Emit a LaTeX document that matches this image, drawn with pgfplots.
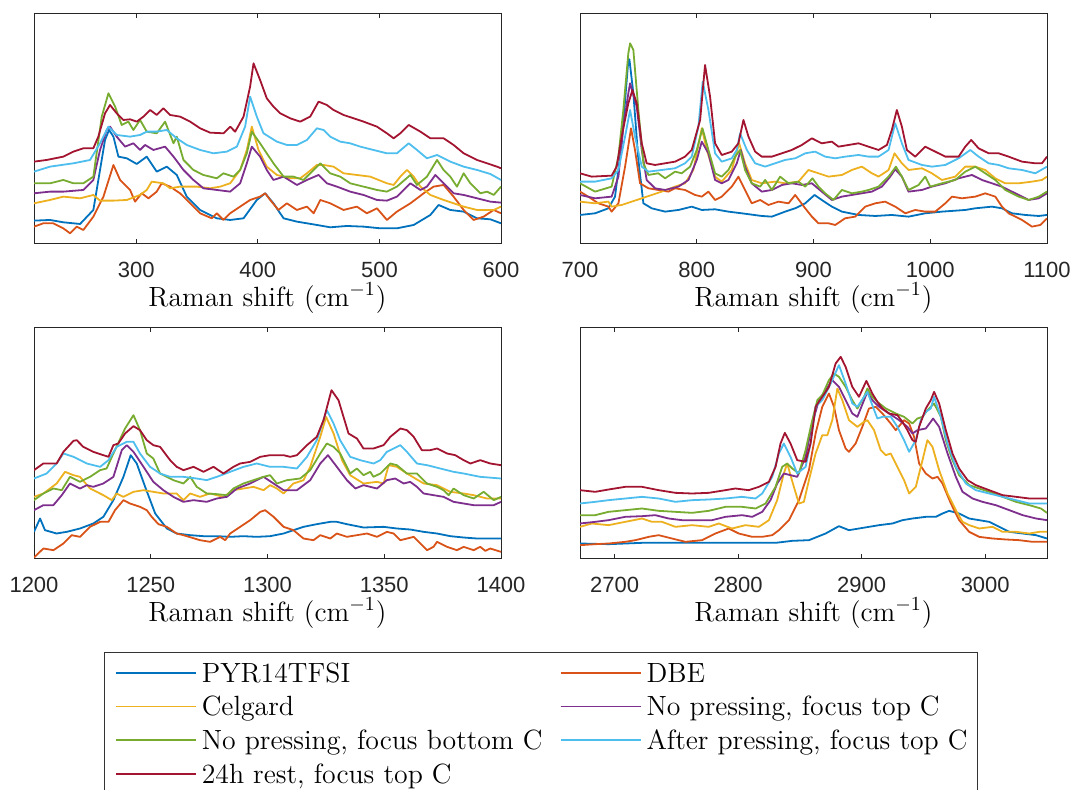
\documentclass[border=0pt]{standalone}
\usepackage{fontspec}
\usepackage{pgfplots}
\pgfplotsset{compat=1.18}
\newfontfamily\ticksf{Liberation Sans}

% MATLAB default line colours
\definecolor{cA}{RGB}{0,114,189}
\definecolor{cB}{RGB}{217,83,25}
\definecolor{cC}{RGB}{237,177,32}
\definecolor{cD}{RGB}{126,47,142}
\definecolor{cE}{RGB}{119,172,48}
\definecolor{cF}{RGB}{77,190,238}
\definecolor{cG}{RGB}{162,20,47}

\pgfplotsset{
  ramanpanel/.style={
    scale only axis, width=233.5pt, height=115pt,
    ymin=0, ymax=690, ytick=\empty,
    axis line style={black!85, line width=0.5pt},
    tick style={black!85, line width=0.5pt},
    major tick length=2.3pt, tick align=inside,
    /pgf/number format/assume math mode=true,
    /pgf/number format/1000 sep={},
    ticklabel style={font=\ticksf\fontsize{11}{13}\selectfont, text=black!85},
    xticklabel style={inner sep=0pt, yshift=-9.1pt},
    xlabel={Raman shift (cm$^{-1}$)},
    x label style={at={(axis description cs:0.5,0)}, anchor=base, inner sep=0pt,
      yshift=-31.35pt, font=\fontsize{13.9}{16.5}\selectfont},
    every axis plot/.append style={line width=0.9pt, line join=round, no markers},
  }
}

\begin{document}
\begin{tikzpicture}

% ---------------- 215-600 cm^-1 ----------------
\begin{axis}[ramanpanel, at={(17pt,272.85pt)}, anchor=south west,
  xmin=216, xmax=600, xtick={300,400,500,600}]
\addplot[cA] coordinates {(216,68)(229.2,70)(240.1,63)(253.9,58)(264.8,100)(270.3,220)(274.4,310)(277.7,340)(281.3,320)(285.4,260)(292.3,255)(300.5,238)(308.7,260)(316.9,215)(325.2,230)(333.4,205)(341.6,140)(352.6,100)(366.3,75)(377.3,70)(388.3,75)(399.2,130)(406.1,150)(412.9,120)(421.2,75)(432.2,65)(448.6,55)(459.6,48)(473.3,52)(487.0,50)(500.7,45)(514.4,45)(528.2,55)(541.9,85)(548.7,115)(558.3,100)(569.3,95)(580.3,75)(591.2,72)(600,60)};
\addplot[cB] coordinates {(216,50)(223.7,60)(231.9,60)(240.1,45)(245.6,30)(251.1,50)(256.6,40)(264.8,80)(273.1,140)(281.3,235)(286.8,190)(292.3,170)(295.0,160)(299.1,125)(304.6,150)(310.1,135)(316.9,155)(321.0,180)(327.9,170)(336.1,150)(344.4,120)(352.6,90)(362.2,75)(366.3,90)(371.8,70)(377.3,90)(385.5,110)(393.7,130)(401.9,140)(406.1,150)(410.2,130)(417.0,100)(423.9,120)(432.2,100)(440.4,110)(445.9,90)(451.4,130)(459.6,120)(470.5,100)(481.5,110)(489.7,90)(498.0,105)(506.2,70)(514.4,95)(525.5,120)(536.4,150)(544.6,170)(552.8,175)(561.0,140)(569.3,100)(577.5,70)(585.7,80)(594.0,100)(600,90)};
\addplot[cC] coordinates {(216,120)(229.2,130)(240.1,140)(253.9,135)(264.8,145)(270.3,128)(281.3,128)(292.3,130)(303.2,145)(308.7,160)(312.8,185)(322.4,180)(327.9,165)(336.1,170)(349.9,170)(360.8,165)(369.1,170)(377.3,180)(385.5,220)(391.0,280)(395.1,350)(400.6,280)(407.4,230)(415.7,205)(426.7,195)(434.9,195)(440.4,210)(448.6,235)(454.1,235)(462.3,230)(470.5,210)(481.5,205)(492.5,200)(506.2,180)(511.7,175)(517.2,200)(522.7,220)(528.2,200)(533.7,170)(541.9,145)(552.8,130)(561.0,120)(569.3,110)(580.3,100)(588.5,100)(594.0,100)(600,110)};
\addplot[cD] coordinates {(216,150)(229.2,155)(240.1,155)(256.6,160)(264.8,190)(270.3,280)(275.8,340)(278.5,350)(284.0,320)(290.9,290)(297.7,300)(303.2,280)(307.3,295)(314.2,280)(323.8,290)(330.7,260)(338.9,220)(347.1,190)(355.3,165)(366.3,160)(377.3,155)(385.5,180)(391.0,240)(395.1,290)(401.9,260)(407.4,220)(412.9,190)(421.2,200)(432.2,175)(440.4,190)(450.0,205)(456.8,180)(465.1,170)(476.0,155)(487.0,145)(498.0,130)(506.2,128)(514.4,140)(525.5,180)(533.7,160)(539.1,170)(546.0,205)(552.8,180)(561.0,150)(569.3,145)(580.3,135)(591.2,125)(600,122)};
\addplot[cE] coordinates {(216,180)(229.2,180)(240.1,190)(248.4,180)(256.6,180)(264.8,200)(271.7,380)(277.2,450)(282.7,410)(288.1,355)(293.6,365)(297.7,340)(303.2,370)(308.7,335)(316.9,330)(323.8,365)(330.7,300)(333.4,320)(338.9,250)(347.1,220)(355.3,205)(366.3,195)(371.8,210)(380.0,200)(385.5,220)(391.0,270)(395.1,335)(401.9,300)(407.4,270)(412.9,240)(421.2,200)(429.4,200)(437.6,190)(445.9,220)(451.4,240)(459.6,210)(467.8,200)(476.0,180)(487.0,170)(498.0,160)(506.2,155)(514.4,170)(525.5,205)(530.9,175)(539.1,200)(547.4,250)(552.8,220)(558.3,200)(563.8,170)(569.3,210)(574.8,180)(583.0,150)(588.5,155)(594.0,145)(600,170)};
\addplot[cF] coordinates {(216,215)(229.2,230)(248.4,240)(262.1,250)(270.3,300)(277.2,350)(284.0,325)(295.0,320)(303.2,325)(308.7,335)(316.9,335)(325.2,340)(333.4,315)(341.6,295)(352.6,280)(363.6,270)(374.5,275)(382.8,290)(389.6,350)(393.7,440)(399.2,380)(404.7,330)(415.7,305)(423.9,295)(432.2,295)(440.4,310)(448.6,345)(454.1,340)(459.6,320)(467.8,305)(476.0,300)(484.3,290)(495.2,280)(506.2,270)(514.4,270)(524.1,300)(530.9,280)(539.1,255)(547.4,265)(558.3,245)(569.3,230)(580.3,220)(591.2,208)(600,190)};
\addplot[cG] coordinates {(216,245)(226.4,250)(240.1,260)(248.4,275)(256.6,285)(264.8,285)(268.9,320)(274.4,390)(278.5,415)(284.0,390)(289.5,370)(295.0,372)(300.5,365)(306.0,380)(311.5,400)(316.9,385)(322.4,405)(327.9,385)(336.1,380)(344.4,365)(352.6,345)(360.8,332)(371.8,330)(377.3,350)(381.4,335)(388.3,380)(393.7,470)(396.5,540)(401.9,490)(407.4,435)(412.9,410)(418.4,390)(426.7,375)(434.9,365)(443.1,380)(450.0,425)(456.8,415)(462.3,400)(470.5,385)(478.8,375)(487.0,365)(498.0,350)(506.2,330)(511.7,315)(517.2,330)(524.1,355)(533.7,335)(541.9,315)(552.8,315)(561.0,295)(569.3,270)(580.3,250)(588.5,240)(596.7,230)(600,225)};
\end{axis}

% ---------------- 700-1100 cm^-1 ----------------
\begin{axis}[ramanpanel, at={(290pt,272.85pt)}, anchor=south west,
  xmin=700, xmax=1100, xtick={700,800,900,1000,1100}]
\addplot[cA] coordinates {(700,85)(712.9,90)(724.3,105)(730,140)(735.7,300)(741.4,550)(742.3,552)(745.7,450)(750,250)(754.3,120)(761.4,105)(772.9,95)(784.3,100)(795.7,110)(804.3,100)(815.7,102)(827.1,95)(838.6,90)(855.7,82)(864.3,80)(875.7,95)(884.3,105)(892.9,120)(900.9,145)(907.1,130)(915.7,110)(924.3,95)(938.6,85)(952.9,82)(967.1,85)(981.4,80)(995.7,90)(1010,95)(1030,100)(1038.6,105)(1052.9,110)(1061.4,105)(1070,90)(1081.4,85)(1092.9,82)(1100,85)};
\addplot[cB] coordinates {(700,155)(707.1,140)(715.7,120)(724.3,110)(727.1,95)(732.9,120)(738.6,230)(743.7,345)(747.1,280)(751.4,180)(758.6,165)(767.1,160)(775.7,155)(781.4,165)(790,160)(798.6,145)(804.3,140)(810,155)(815.7,130)(821.4,140)(830,170)(835.7,200)(841.4,160)(847.1,120)(854.3,130)(861.4,115)(870,125)(878.6,120)(884.3,145)(892.9,105)(898.6,80)(904.3,60)(912.9,60)(918.6,55)(927.1,75)(935.7,80)(944.3,110)(952.9,120)(961.4,125)(970,110)(978.6,90)(987.1,100)(995.7,95)(1004.3,95)(1012.9,120)(1018.6,140)(1027.1,135)(1038.6,140)(1047.1,150)(1055.7,140)(1061.4,110)(1067.1,90)(1078.6,70)(1087.1,50)(1094.3,55)(1100,75)};
\addplot[cC] coordinates {(700,125)(712.9,120)(724.3,125)(727.1,110)(735.7,115)(744.3,125)(752.9,135)(761.4,145)(770,155)(781.4,170)(790,180)(797.1,220)(804.3,345)(808.6,280)(815.7,200)(821.4,185)(830,220)(836.3,300)(841.4,240)(847.1,190)(855.7,180)(867.1,185)(875.7,180)(887.1,185)(895.7,220)(904.3,210)(912.9,200)(924.3,205)(932.9,220)(941.4,230)(950,210)(955.7,200)(964.3,220)(969.4,270)(975.7,240)(981.4,220)(992.9,225)(1001.4,210)(1010,190)(1021.4,200)(1030,230)(1038.6,230)(1047.1,220)(1055.7,195)(1064.3,180)(1075.7,180)(1087.1,185)(1095.7,190)(1100,200)};
\addplot[cD] coordinates {(700,145)(712.9,135)(727.1,140)(732.9,200)(737.1,350)(741.4,450)(742.9,480)(748.6,410)(752.9,280)(757.1,190)(764.3,165)(772.9,160)(784.3,170)(792.9,190)(800,250)(804.3,305)(810,270)(815.7,190)(821.4,180)(827.1,190)(834.3,240)(837.7,280)(841.4,230)(847.1,180)(855.7,155)(864.3,160)(872.9,175)(881.4,180)(890,175)(898.6,180)(907.1,155)(915.7,130)(924.3,140)(932.9,145)(941.4,150)(950,155)(958.6,170)(965.7,200)(970,222)(975.7,200)(981.4,155)(992.9,160)(1001.4,170)(1012.9,180)(1024.3,195)(1035.7,205)(1044.3,190)(1052.9,180)(1061.4,170)(1072.9,150)(1084.3,130)(1092.9,135)(1100,150)};
\addplot[cE] coordinates {(700,180)(712.9,155)(727.1,170)(732.9,260)(737.1,400)(741.4,570)(742.9,600)(745.7,580)(750,400)(754.3,240)(758.6,205)(767.1,210)(772.9,195)(781.4,215)(787.1,210)(794.3,230)(800,280)(804.9,345)(810,280)(815.7,210)(821.4,200)(827.1,220)(832.9,260)(837.1,280)(841.4,220)(847.1,180)(854.3,170)(858.6,190)(864.3,160)(871.4,200)(878.6,180)(887.1,185)(892.9,170)(899.1,195)(904.3,170)(910,150)(917.1,130)(924.3,160)(932.9,150)(941.4,155)(947.1,160)(955.7,170)(964.3,200)(970.6,230)(975.7,200)(981.4,160)(990,175)(995.7,200)(1000,170)(1010,180)(1021.4,190)(1030,215)(1038.6,230)(1047.1,210)(1055.7,190)(1064.3,160)(1075.7,140)(1084.3,130)(1092.9,140)(1100,155)};
\addplot[cF] coordinates {(700,185)(712.9,185)(727.1,195)(732.9,220)(738.6,320)(742.9,400)(747.1,320)(752.9,230)(758.6,215)(770,220)(781.4,225)(790,240)(795.7,260)(801.4,350)(805.1,485)(810,400)(815.7,270)(821.4,245)(830,255)(834.3,280)(837.1,330)(842.9,280)(850,240)(858.6,230)(867.1,240)(875.7,250)(884.3,255)(892.9,270)(901.4,275)(910,260)(918.6,255)(927.1,260)(938.6,265)(947.1,260)(955.7,260)(964.3,280)(970,360)(975.7,300)(981.4,250)(992.9,235)(1001.4,230)(1012.9,235)(1024.3,255)(1034.3,280)(1041.4,260)(1050,240)(1058.6,235)(1067.1,225)(1078.6,220)(1090,210)(1100,230)};
\addplot[cG] coordinates {(700,210)(710,200)(727.1,203)(731.4,230)(735.7,320)(741.4,420)(744.9,460)(748.6,420)(752.9,300)(757.1,240)(764.3,235)(772.9,240)(781.4,245)(790,260)(795.7,280)(802.9,370)(807.1,535)(811.4,440)(815.7,300)(821.4,265)(830,275)(835.7,300)(840,370)(844.3,320)(850,275)(855.7,260)(864.3,260)(872.9,270)(881.4,280)(890,295)(898.6,315)(907.1,300)(915.7,305)(921.4,290)(930,295)(938.6,300)(947.1,290)(955.7,280)(962.9,295)(967.1,340)(971.4,400)(975.7,350)(980,280)(987.1,260)(995.7,290)(1004.3,275)(1012.9,260)(1024.3,260)(1030,290)(1035.1,310)(1041.4,285)(1050,270)(1058.6,270)(1067.1,260)(1078.6,245)(1090,240)(1095.7,240)(1100,260)};
\end{axis}

% ---------------- 1200-1400 cm^-1 (carries the legend) ----------------
\begin{axis}[ramanpanel, at={(17pt,115.25pt)}, anchor=south west,
  height=115.5pt, ymax=693,
  xmin=1200, xmax=1400, xtick={1200,1250,1300,1350,1400},
  legend columns=2,
  legend cell align=left,
  legend image code/.code={\draw[#1, line width=0.9pt] (0pt,0pt) -- (40pt,0pt); \path (42.5pt,0pt);},
  legend style={at={(0.152,-0.409)}, anchor=north west,
    draw=black!80, line width=0.5pt, fill=white, outer sep=0pt,
    inner xsep=5pt, inner ysep=2.9pt, row sep=2.85pt, column sep=0pt,
    font=\fontsize{13.9}{16.5}\selectfont,
    nodes={inner sep=0pt, text height=11.7pt, text depth=2.3pt}},
  ]
\addplot[cA] coordinates {(1200,80)(1202.6,120)(1204.7,85)(1209.7,75)(1214,80)(1219.7,90)(1225.4,105)(1229.7,125)(1234,175)(1238.3,245)(1241.4,310)(1244,285)(1247.6,215)(1251.9,135)(1256.9,90)(1261.1,75)(1266.9,70)(1272.6,67)(1278.3,67)(1284,65)(1289.7,67)(1295.4,65)(1301.1,67)(1306.9,75)(1311.1,85)(1315.4,95)(1321.1,103)(1326.9,110)(1329.7,110)(1334,103)(1341.1,93)(1349.7,95)(1355.4,90)(1361.1,87)(1366.9,80)(1372.6,75)(1378.3,67)(1384,63)(1389.7,60)(1400,60)};
\addlegendentry{\makebox[179pt][l]{PYR14TFSI}}
\addplot[cB] coordinates {(1200,3)(1204,30)(1208.3,25)(1212.6,45)(1216.1,70)(1219.7,65)(1224,95)(1228.3,110)(1231.9,110)(1234.7,145)(1238.3,175)(1241.1,165)(1245.4,155)(1248.3,145)(1250.4,125)(1253.3,103)(1256.9,95)(1261.1,75)(1264,70)(1271.1,55)(1275.4,50)(1279.7,65)(1281.9,55)(1284,75)(1288.3,95)(1292.6,115)(1296.9,140)(1299,145)(1302.6,125)(1306.9,95)(1311.1,85)(1315.4,60)(1319.7,55)(1322.6,70)(1326.9,60)(1329.7,75)(1334,65)(1338.3,70)(1342.6,75)(1346.9,65)(1351.1,80)(1354,75)(1356.9,55)(1362.6,65)(1368.3,25)(1371.1,35)(1372.6,50)(1376.9,35)(1381.1,25)(1384,35)(1388.3,25)(1391.1,35)(1393.3,23)(1395.4,30)(1400,20)};
\addlegendentry{\makebox[158.5pt][l]{DBE}}
\addplot[cC] coordinates {(1200,185)(1204,195)(1209.7,225)(1213.3,260)(1216.9,250)(1219.7,245)(1224,210)(1229.7,190)(1233.3,175)(1235.4,195)(1238.3,185)(1242.6,200)(1246.9,205)(1251.1,200)(1255.4,195)(1261.1,195)(1264,175)(1266.9,195)(1271.1,185)(1275.4,195)(1281.1,185)(1285.4,205)(1289.7,210)(1294,215)(1298.3,205)(1301.1,220)(1304,210)(1306.9,195)(1311.1,225)(1315.4,235)(1318.3,275)(1322.6,365)(1325.1,425)(1328.3,375)(1331.9,295)(1335.4,250)(1341.1,225)(1346.9,230)(1349.7,225)(1351.9,280)(1355.4,275)(1359.7,255)(1366.9,225)(1372.6,220)(1378.3,200)(1384,195)(1388.3,190)(1394,180)(1400,180)};
\addlegendentry{Celgard}
\addplot[cD] coordinates {(1200,145)(1204,160)(1208.3,160)(1211.9,190)(1215.4,225)(1219.7,210)(1222.6,220)(1225.4,215)(1229.7,225)(1234,245)(1237.6,325)(1239.7,340)(1242.6,320)(1246.9,275)(1251.1,230)(1255.4,205)(1259.7,185)(1264,170)(1268.3,175)(1274,170)(1278.3,180)(1282.6,185)(1286.9,210)(1292.6,225)(1298.3,245)(1302.6,225)(1306.9,205)(1312.6,205)(1318.3,235)(1322.6,285)(1325.9,310)(1329.7,275)(1334,235)(1337.6,210)(1341.1,220)(1346.9,210)(1351.1,235)(1354.7,240)(1358.3,225)(1361.1,230)(1364,215)(1366.9,195)(1371.1,190)(1375.4,185)(1379.7,170)(1384,165)(1388.3,160)(1392.6,160)(1396.9,160)(1400,170)};
\addlegendentry{No pressing, focus top C}
\addplot[cE] coordinates {(1200,175)(1204,195)(1208.3,210)(1211.9,205)(1215.4,245)(1219.7,230)(1224,245)(1228.3,265)(1231.1,270)(1234,315)(1239,390)(1242.6,430)(1245.4,385)(1248.3,315)(1251.1,300)(1254,255)(1259.7,235)(1264,225)(1266.9,245)(1269.7,215)(1274,195)(1278.3,193)(1282.6,190)(1285.4,210)(1289.7,225)(1294,235)(1298.3,245)(1301.1,250)(1304,225)(1308.3,235)(1314,240)(1318.3,265)(1322.6,315)(1325.4,345)(1328.3,335)(1331.1,315)(1335.4,255)(1338.3,270)(1341.1,250)(1344,260)(1345.4,245)(1348.3,255)(1352.6,285)(1355.4,280)(1359.7,255)(1364,255)(1368.3,225)(1372.6,215)(1375.4,205)(1377.6,190)(1379.7,210)(1384,190)(1388.3,180)(1392.6,200)(1396.9,175)(1400,185)};
\addlegendentry{No pressing, focus bottom C}
\addplot[cF] coordinates {(1200,240)(1205.4,255)(1209.7,285)(1212.6,315)(1216.9,305)(1222.6,285)(1228.3,275)(1231.9,295)(1235.4,335)(1239.7,350)(1242.6,350)(1245.4,315)(1249.7,275)(1254,255)(1258.3,245)(1264,245)(1269.7,240)(1274,235)(1278.3,245)(1284,260)(1289.7,275)(1295.4,285)(1301.1,275)(1306.9,275)(1312.6,270)(1316.9,305)(1321.1,355)(1325.4,445)(1328.3,405)(1331.1,355)(1335.4,305)(1339.7,295)(1345.4,285)(1348.3,295)(1351.1,320)(1356.9,340)(1359.7,320)(1364,285)(1368.3,280)(1374,270)(1379.7,260)(1384,255)(1391.1,245)(1400,240)};
\addlegendentry{After pressing, focus top C}
\addplot[cG] coordinates {(1200,265)(1204,285)(1209.7,285)(1212.6,320)(1216.9,353)(1218.3,355)(1221.1,335)(1225.4,320)(1229.7,310)(1231.9,305)(1234,340)(1236.1,345)(1239,375)(1242.6,397)(1245.4,385)(1248.3,355)(1251.1,340)(1254,335)(1258.3,295)(1261.1,275)(1264,265)(1268.3,275)(1272.6,260)(1276.9,275)(1281.1,255)(1285.4,275)(1288.3,285)(1292.6,290)(1296.9,305)(1301.1,310)(1306.9,310)(1309.7,305)(1312.6,310)(1316.9,340)(1321.1,365)(1324,415)(1327.4,505)(1330.4,475)(1334.7,375)(1338.3,360)(1341.1,330)(1345.4,330)(1349.7,340)(1352.6,365)(1356.9,390)(1359.7,385)(1362.6,365)(1366.1,325)(1369.7,325)(1372.6,330)(1376.9,315)(1380.4,310)(1384,295)(1386.9,285)(1391.1,295)(1395.4,285)(1400,280)};
\addlegendentry{24h rest, focus top C}
\end{axis}

% ---------------- 2672-3050 cm^-1 ----------------
\begin{axis}[ramanpanel, at={(290pt,115.25pt)}, anchor=south west,
  height=115.5pt, ymax=693,
  xmin=2672, xmax=3050, xtick={2700,2800,2900,3000}]
\addplot[cA] coordinates {(2672,45)(2695.1,43)(2722.2,47)(2749.2,47)(2776.2,47)(2803.2,47)(2830.3,47)(2843.8,53)(2857.3,55)(2870.8,75)(2881.6,97)(2889.7,85)(2897.8,90)(2905.9,95)(2914.1,100)(2924.9,105)(2933,115)(2941.1,120)(2951.9,125)(2960,125)(2965.4,135)(2970.8,143)(2978.9,135)(2987,120)(2995.1,115)(3003.2,110)(3011.4,95)(3019.5,80)(3030.3,75)(3041.1,70)(3050,60)};
\addplot[cB] coordinates {(2672,40)(2684.3,43)(2695.1,45)(2708.6,50)(2716.8,55)(2727.6,65)(2735.7,70)(2746.5,60)(2757.3,50)(2770.8,55)(2781.6,75)(2792.4,90)(2800.5,75)(2811.4,65)(2819.5,65)(2827.6,70)(2833,85)(2841.1,115)(2849.2,175)(2857.3,265)(2862.7,375)(2868.1,455)(2873.5,495)(2877.6,455)(2881.6,385)(2887,330)(2889.7,320)(2895.1,345)(2900.5,395)(2905.9,450)(2911.4,455)(2916.8,435)(2923.5,405)(2927.6,385)(2934.3,415)(2938.4,405)(2942.4,365)(2946.5,285)(2951.9,255)(2957.3,240)(2961.4,245)(2965.4,225)(2972.2,165)(2978.9,115)(2987,80)(2995.1,65)(3005.9,60)(3016.8,57)(3027.6,55)(3038.4,50)(3050,50)};
\addplot[cC] coordinates {(2672,95)(2681.6,105)(2695.1,100)(2708.6,110)(2722.2,120)(2730.3,110)(2738.4,110)(2749.2,95)(2762.7,100)(2776.2,95)(2784.3,105)(2795.1,90)(2805.9,100)(2816.8,95)(2824.9,115)(2831.6,175)(2837,255)(2839.7,285)(2845.1,215)(2849.2,165)(2853.2,170)(2857.3,235)(2862.7,315)(2868.1,370)(2872.2,370)(2876.2,415)(2880.3,510)(2884.3,475)(2889.7,415)(2896.5,395)(2901.9,410)(2904.6,415)(2910,385)(2915.4,325)(2919.5,310)(2923.5,315)(2928.9,275)(2934.3,235)(2938.4,195)(2943.8,215)(2949.2,295)(2953.2,355)(2957.3,335)(2962.7,265)(2969.5,195)(2976.2,145)(2981.6,110)(2987,100)(2995.1,90)(3005.9,95)(3014.1,80)(3024.9,80)(3035.7,75)(3043.8,80)(3050,80)};
\addplot[cD] coordinates {(2672,105)(2684.3,110)(2695.1,115)(2708.6,125)(2722.2,127)(2733,130)(2743.8,120)(2754.6,115)(2768.1,115)(2778.9,115)(2789.7,125)(2803.2,130)(2811.4,125)(2819.5,140)(2826.2,175)(2831.6,225)(2837,255)(2842.4,250)(2847.8,245)(2854.6,305)(2860,405)(2865.4,475)(2870.8,505)(2876.2,535)(2881.6,515)(2887,475)(2892.4,435)(2896.5,425)(2901.9,475)(2904.6,500)(2908.6,475)(2914.1,455)(2922.2,435)(2930.3,415)(2937,395)(2941.1,375)(2945.1,385)(2951.9,390)(2955.9,410)(2957.8,420)(2962.7,395)(2969.5,315)(2976.2,245)(2981.6,200)(2989.7,180)(2997.8,170)(3008.6,160)(3019.5,145)(3030.3,130)(3041.1,120)(3050,115)};
\addplot[cE] coordinates {(2672,130)(2684.3,130)(2695.1,140)(2708.6,145)(2722.2,150)(2735.7,143)(2749.2,140)(2762.7,137)(2776.2,143)(2789.7,155)(2803.2,155)(2814.1,150)(2822.2,165)(2830.3,215)(2835.7,275)(2839.7,285)(2843.8,270)(2849.2,255)(2854.6,325)(2860,415)(2864.1,475)(2868.1,490)(2873.5,535)(2877.6,555)(2881.6,545)(2887,515)(2892.4,475)(2896.5,450)(2901.9,485)(2904.6,510)(2908.6,485)(2912.7,470)(2919.5,450)(2927.6,435)(2934.3,425)(2941.1,405)(2945.1,420)(2949.2,425)(2953.2,445)(2958.6,465)(2964.1,425)(2968.1,355)(2973.5,295)(2978.9,250)(2987,220)(2995.1,210)(3003.2,200)(3014.1,185)(3024.9,170)(3035.7,160)(3045.1,150)(3050,137)};
\addplot[cF] coordinates {(2672,165)(2684.3,170)(2695.1,175)(2722.2,185)(2735.7,180)(2749.2,170)(2762.7,175)(2776.2,177)(2789.7,180)(2803.2,185)(2814.1,180)(2819.5,195)(2827.6,245)(2833,315)(2837,345)(2842.4,305)(2847.8,255)(2854.6,275)(2858.6,345)(2862.7,455)(2868.1,475)(2874.9,525)(2881.6,580)(2887,525)(2892.4,465)(2896.5,455)(2901.9,485)(2904.6,500)(2908.6,460)(2912.7,420)(2916.8,425)(2923.5,425)(2928.9,395)(2934.3,355)(2938.4,320)(2943.8,355)(2947.8,415)(2951.9,440)(2955.9,450)(2958.6,485)(2964.1,425)(2969.5,345)(2976.2,275)(2984.3,225)(2992.4,205)(3003.2,195)(3014.1,185)(3024.9,175)(3035.7,165)(3046.5,165)(3050,165)};
\addplot[cG] coordinates {(2672,205)(2684.3,200)(2695.1,207)(2708.6,215)(2722.2,215)(2735.7,205)(2749.2,197)(2762.7,195)(2776.2,197)(2789.7,205)(2797.8,210)(2808.6,205)(2816.8,215)(2824.9,230)(2830.3,275)(2834.3,345)(2837.8,377)(2842.4,345)(2847.8,295)(2854.6,290)(2858.6,345)(2862.7,455)(2868.1,485)(2873.5,515)(2878.9,585)(2883,605)(2887,575)(2892.4,515)(2897.8,485)(2903.8,533)(2908.6,495)(2912.7,470)(2916.8,450)(2922.2,435)(2928.9,430)(2933,410)(2937,385)(2941.1,355)(2943.8,350)(2946.5,395)(2951.9,450)(2955.9,475)(2958.6,500)(2962.7,465)(2968.1,385)(2973.5,315)(2978.9,270)(2985.7,235)(2992.4,220)(3003.2,205)(3014.1,190)(3024.9,185)(3035.7,180)(3046.5,180)(3050,180)};
\end{axis}

\pgfresetboundingbox
\path (0pt,0pt) rectangle (538pt,394.5pt);
\end{tikzpicture}
\end{document}
